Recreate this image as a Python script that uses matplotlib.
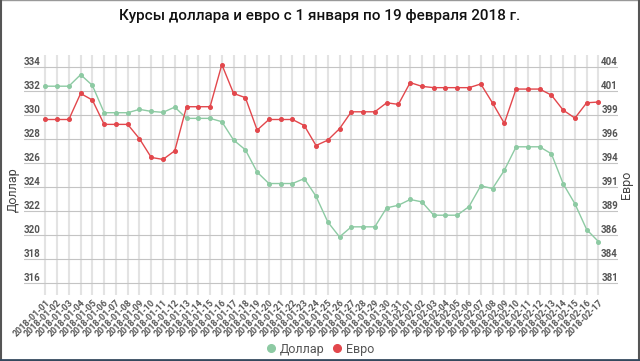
import matplotlib
matplotlib.use('Agg')
import matplotlib.pyplot as plt
import numpy as np
import pandas as pd
from matplotlib.lines import Line2D
from matplotlib.ticker import FormatStrFormatter

plt.rcParams['font.family'] = ['Roboto', 'DejaVu Sans']

GREEN = '#8dcaa3'
RED = '#e2474c'

dates = list(pd.date_range('2018-01-01', '2018-02-17').strftime('%Y-%m-%d'))

# Доллар (left axis)
usd = [332.4, 332.4, 332.4, 333.36, 332.47, 330.19, 330.19, 330.19, 330.47, 330.3,
       330.22, 330.66, 329.72, 329.72, 329.72, 329.44, 327.91, 327.1, 325.24, 324.29,
       324.29, 324.29, 324.7, 323.23, 321.09, 319.84, 320.68, 320.68, 320.68, 322.26,
       322.48, 322.96, 322.76, 321.65, 321.65, 321.65, 322.37, 324.1, 323.87, 325.39,
       327.35, 327.35, 327.35, 326.77, 324.27, 322.6, 320.45, 319.45]

# Евро (right axis)
eur = [398.41, 398.41, 398.41, 401.18, 400.48, 397.89, 397.89, 397.89, 396.36, 394.37,
       394.16, 395.08, 399.77, 399.77, 399.77, 404.26, 401.18, 400.74, 397.28, 398.41,
       398.41, 398.41, 397.77, 395.64, 396.21, 397.43, 399.23, 399.23, 399.23, 400.19,
       400.02, 402.34, 401.94, 401.8, 401.8, 401.8, 401.8, 402.19, 400.17, 398.0,
       401.65, 401.65, 401.65, 401.01, 399.41, 398.56, 400.19, 400.27]

usd_ticks = np.arange(316, 335, 2)
eur_ticks = np.linspace(381, 404, 10)

fig = plt.figure(figsize=(6.4, 3.61), dpi=100)
fig.patch.set_facecolor('white')
ax = fig.add_axes([24 / 640, 1 - 295 / 361, 594 / 640, 240 / 361])
ax2 = ax.twinx()

ax.plot(dates, usd, color=GREEN, lw=1.0, marker='o', ms=2.6, zorder=3)
ax2.plot(dates, eur, color=RED, lw=1.0, marker='o', ms=2.6, zorder=3)

ax.set_xlim(-1.81, 48.66)
ax.set_ylim(315, 335)
ax2.set_ylim(381 - 23 / 18, 404 + 23 / 18)

ax.set_yticks(usd_ticks)
ax2.set_yticks(eur_ticks)
ax2.yaxis.set_major_formatter(FormatStrFormatter('%.0f'))

ax.grid(axis='y', color='#c4c4c4', lw=0.8)
ax.grid(axis='x', color='#e3e3e3', lw=1.5)
ax.set_axisbelow(True)

for a in (ax, ax2):
    for s in a.spines.values():
        s.set_visible(False)

ax.tick_params(axis='y', length=0, pad=0, labelsize=7, labelcolor='#555555')
ax2.tick_params(axis='y', length=0, pad=0, labelsize=7, labelcolor='#555555')
for lab in ax.get_yticklabels():
    lab.set_ha('left')
    lab.set_va('bottom')
    lab.set_fontweight('bold')
for lab in ax2.get_yticklabels():
    lab.set_ha('right')
    lab.set_va('bottom')
    lab.set_fontweight('bold')

ax.tick_params(axis='x', length=0, pad=2, labelsize=6.5, labelcolor='#555555')
for lab in ax.get_xticklabels():
    lab.set_rotation(45)
    lab.set_ha('right')
    lab.set_va('top')
    lab.set_rotation_mode('anchor')
    lab.set_fontweight('bold')

fig.text(13 / 640, 1 - 190 / 361, 'Доллар', rotation=90, ha='center', va='center',
         fontsize=9, color='#444444')
fig.text(627 / 640, 1 - 185 / 361, 'Евро', rotation=90, ha='center', va='center',
         fontsize=9, color='#444444')

fig.text(0.5, 1 - 16 / 361, 'Курсы доллара и евро с 1 января по 19 февраля 2018 г.',
         ha='center', va='center', fontsize=11, fontweight='medium', color='#111111')

handles = [Line2D([], [], ls='', marker='o', ms=5.5, color=GREEN),
           Line2D([], [], ls='', marker='o', ms=5.5, color=RED)]
fig.legend(handles, ['Доллар', 'Евро'], loc='center', bbox_to_anchor=(320 / 640, 1 - 349 / 361),
           ncol=2, frameon=False, handlelength=0.8, handletextpad=0.3, columnspacing=0.6,
           prop={'size': 9}, labelcolor='#555555')

# outer frame
fig.add_artist(Line2D([0, 1], [0.999, 0.999], transform=fig.transFigure, color='#999999', lw=1))
fig.add_artist(Line2D([0.0015, 0.0015], [0, 1], transform=fig.transFigure, color='#555555', lw=1.5))
fig.add_artist(Line2D([0.9985, 0.9985], [0, 1], transform=fig.transFigure, color='#555555', lw=1.5))
fig.add_artist(Line2D([0, 1], [0.003, 0.003], transform=fig.transFigure, color='#34495e', lw=2))

fig.savefig('out.png', dpi=100)
plt.close()
